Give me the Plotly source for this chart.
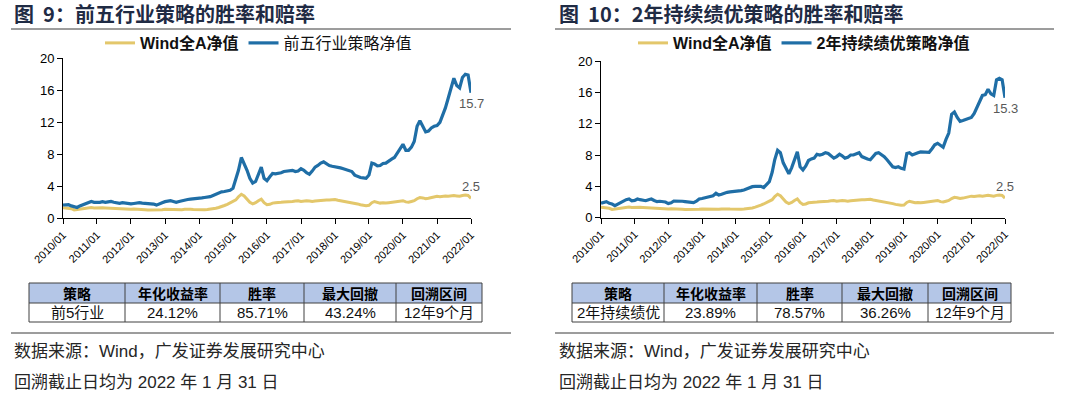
import plotly.graph_objects as go
import pandas as pd

W, H = 1080, 397

# ---------------- data ----------------
months = pd.date_range("2010-01-01", "2022-01-01", freq="MS")
year_ticks = pd.date_range("2010-01-01", "2022-01-01", freq="YS")
tick_labels = ["2010/01", "2011/01", "2012/01", "2013/01", "2014/01", "2015/01", "2016/01",
               "2017/01", "2018/01", "2019/01", "2020/01", "2021/01", "2022/01"]
y_ticks = [0, 4, 8, 12, 16, 20]

wind_a = [
    1.33, 1.30, 1.25, 1.20, 1.05, 1.10, 1.20, 1.25, 1.28, 1.35, 1.35, 1.30,
    1.33, 1.35, 1.32, 1.30, 1.28, 1.25, 1.22, 1.15, 1.12, 1.15, 1.10, 1.10,
    1.12, 1.15, 1.15, 1.13, 1.10, 1.08, 1.05, 1.05, 1.03, 1.02, 1.05, 1.08,
    1.12, 1.10, 1.08, 1.10, 1.12, 1.05, 1.08, 1.12, 1.15, 1.12, 1.10, 1.08,
    1.05, 1.08, 1.08, 1.10, 1.12, 1.15, 1.25, 1.35, 1.45, 1.60, 1.75, 1.90,
    2.05, 2.30, 2.70, 3.00, 2.80, 2.40, 2.00, 1.80, 1.95, 2.20, 2.40, 1.95,
    1.70, 1.75, 1.90, 1.95, 1.95, 2.00, 2.05, 2.05, 2.10, 2.10, 2.15, 2.20,
    2.10, 2.15, 2.20, 2.15, 2.10, 2.15, 2.20, 2.25, 2.30, 2.30, 2.28, 2.30,
    2.35, 2.25, 2.20, 2.15, 2.10, 2.00, 1.95, 1.85, 1.80, 1.70, 1.62, 1.58,
    1.62, 1.95, 2.10, 2.00, 1.90, 1.95, 1.90, 1.95, 2.00, 2.00, 2.05, 2.15,
    2.20, 2.05, 2.00, 2.10, 2.20, 2.45, 2.60, 2.55, 2.45, 2.50, 2.60, 2.70,
    2.75, 2.70, 2.75, 2.80, 2.75, 2.80, 2.85, 2.80, 2.75, 2.85, 2.90, 2.85,
    2.50,
]

top5_industry = [
    1.66, 1.70, 1.70, 1.55, 1.40, 1.35, 1.55, 1.70, 1.85, 2.05, 2.10, 2.00,
    1.96, 2.00, 2.08, 2.00, 2.05, 2.10, 2.00, 1.90, 1.87, 1.95, 1.87, 1.85,
    1.80, 1.85, 1.90, 1.96, 1.90, 1.87, 1.85, 1.80, 1.78, 1.65, 1.75, 1.95,
    2.08, 2.15, 2.20, 2.10, 2.00, 2.10, 2.20, 2.30, 2.35, 2.40, 2.42, 2.48,
    2.50, 2.55, 2.60, 2.65, 2.70, 2.85, 3.00, 3.20, 3.30, 3.35, 3.40, 3.50,
    3.75, 4.80, 6.00, 7.60, 6.90, 6.00, 5.00, 4.40, 4.60, 5.50, 6.40, 5.00,
    4.70, 5.20, 5.60, 5.55, 5.60, 5.70, 5.85, 5.90, 6.00, 6.00, 5.85, 5.90,
    6.20, 6.00, 5.70, 5.50, 5.90, 6.40, 6.60, 6.90, 7.05, 6.80, 6.60, 6.50,
    6.45, 6.40, 6.30, 6.20, 6.05, 6.00, 5.85, 5.40, 5.20, 5.10, 5.05, 5.00,
    5.40, 6.90, 6.80, 6.55, 6.60, 6.85, 6.90, 7.20, 7.40, 7.60, 8.20, 8.80,
    9.25, 8.50, 8.50, 8.90, 9.60, 11.5, 12.2, 11.5, 10.8, 10.9, 11.3, 11.5,
    11.6, 12.0, 12.8, 13.8, 15.0, 16.2, 17.5, 16.6, 16.3, 17.6, 18.0, 17.9,
    15.7,
]

two_year_quality = [
    1.84, 2.00, 2.05, 1.84, 1.75, 1.55, 1.75, 2.00, 2.10, 2.30, 2.39, 2.15,
    2.20, 2.39, 2.30, 2.20, 2.17, 2.30, 2.39, 2.20, 2.05, 2.10, 2.05, 2.00,
    1.80, 1.90, 2.13, 2.15, 2.17, 2.10, 2.05, 2.00, 1.95, 1.92, 2.10, 2.39,
    2.45, 2.56, 2.60, 2.69, 2.80, 3.11, 2.90, 3.00, 3.15, 3.24, 3.30, 3.32,
    3.35, 3.40, 3.45, 3.53, 3.70, 3.85, 3.96, 4.00, 4.05, 4.00, 3.85, 4.20,
    4.60, 5.80, 7.40, 8.60, 8.30, 7.00, 6.20, 5.60, 6.40, 7.30, 8.40, 6.50,
    6.10, 6.60, 7.30, 7.50, 7.60, 8.10, 8.00, 8.10, 8.30, 8.20, 7.90, 7.60,
    7.80, 8.10, 7.90, 7.60, 7.70, 8.00, 8.00, 8.10, 8.30, 7.80, 7.60, 7.50,
    7.40, 7.90, 8.20, 8.30, 8.10, 7.80, 7.40, 6.90, 6.50, 6.40, 6.50, 6.30,
    6.20, 8.20, 8.30, 8.00, 8.20, 8.30, 8.40, 8.40, 8.45, 8.35, 8.80, 9.30,
    9.50, 9.20, 9.00, 10.0, 10.8, 13.2, 13.5, 12.8, 12.3, 12.4, 12.5, 12.6,
    12.8, 13.3, 14.0, 14.8, 15.6, 15.7, 16.4, 15.8, 15.6, 17.6, 17.8, 17.6,
    15.3,
]

titles = ["图\u00a0\u00a09：前五行业策略的胜率和赔率", "图\u00a0\u00a010：2年持续绩优策略的胜率和赔率"]
series_names = [["<b>Wind全A净值</b>", "前五行业策略净值"],
                ["<b>Wind全A净值</b>", "<b>2年持续绩优策略净值</b>"]]
table_header = ["策略", "年化收益率", "胜率", "最大回撤", "回溯区间"]
table_rows = [["前5行业", "24.12%", "85.71%", "43.24%", "12年9个月"],
              ["2年持续绩优", "23.89%", "78.57%", "36.26%", "12年9个月"]]
source_text = "数据来源：Wind，广发证券发展研究中心"
date_text = "回溯截止日均为 2022 年 1 月 31 日"

# ---------------- styling / layout ----------------
YELLOW = "#e3c76b"
BLUE = "#1f6ea6"
TITLE_C = "#1f2b44"
CJK = "Noto Sans CJK SC"
LAT = "Liberation Sans, Noto Sans CJK SC"


def fx(x):
    return x / W


def fy(y):
    return 1 - y / H


panels = [
    dict(plot=(63, 471, 58.3, 218.3), cols=[29, 125, 220, 304, 396, 482],
         line=(11, 511), legx=100, title_x=12, blue=top5_industry),
    dict(plot=(601, 1005, 61.0, 217.7), cols=[572, 664, 757, 842, 928, 1011],
         line=(555, 1054), legx=633, title_x=557, blue=two_year_quality),
]

fig = go.Figure()
shapes = []
annots = []

for i, p in enumerate(panels):
    xa = "x" if i == 0 else "x2"
    ya = "y" if i == 0 else "y2"
    lg = "legend" if i == 0 else "legend2"
    fig.add_trace(go.Scatter(x=months, y=wind_a, mode="lines", name=series_names[i][0],
                             line=dict(color=YELLOW, width=3), xaxis=xa, yaxis=ya, legend=lg))
    fig.add_trace(go.Scatter(x=months, y=p["blue"], mode="lines", name=series_names[i][1],
                             line=dict(color=BLUE, width=3.2), xaxis=xa, yaxis=ya, legend=lg))
    x0, x1, yt, yb = p["plot"]
    axis_common = dict(showline=True, linecolor="#000", linewidth=1, ticks="outside",
                       ticklen=5, tickcolor="#000", showgrid=False, zeroline=False,
                       automargin=False)
    fig.layout[("xaxis" if i == 0 else "xaxis2")] = dict(
        domain=[fx(x0), fx(x1)], anchor=ya, type="date",
        range=[months[0], months[-1]], tickvals=list(year_ticks), ticktext=tick_labels,
        tickangle=-45, tickfont=dict(family=LAT, size=11, color="#000"), **axis_common)
    fig.layout[("yaxis" if i == 0 else "yaxis2")] = dict(
        domain=[fy(yb), fy(yt)], anchor=xa, range=[0, 20], tickvals=y_ticks,
        tickfont=dict(family=LAT, size=13, color="#000"), **axis_common)
    fig.layout[lg] = dict(orientation="h", x=fx(p["legx"]), y=fy(43), xanchor="left",
                          yanchor="middle", font=dict(family=LAT, size=16, color="#111"),
                          bgcolor="rgba(0,0,0,0)", itemwidth=30, tracegroupgap=0)

    # end labels
    annots.append(dict(x=months[-1], y=p["blue"][-1], xref=xa, yref=ya, text=f"{p['blue'][-1]:.1f}",
                       showarrow=False, yshift=-11, xanchor="center", yanchor="middle",
                       font=dict(family=LAT, size=13, color="#595959")))
    annots.append(dict(x=months[-1], y=wind_a[-1], xref=xa, yref=ya, text=f"{wind_a[-1]:.1f}",
                       showarrow=False, yshift=12, xanchor="center", yanchor="middle",
                       font=dict(family=LAT, size=13, color="#595959")))

    # title + rules
    annots.append(dict(x=fx(p["title_x"]), y=fy(14), xref="paper", yref="paper", text=f"<b>{titles[i]}</b>",
                       showarrow=False, xanchor="left", yanchor="middle",
                       font=dict(family=CJK, size=20, color=TITLE_C)))
    lx0, lx1 = p["line"]
    for yy in (29, 333):
        shapes.append(dict(type="line", xref="paper", yref="paper", x0=fx(lx0), x1=fx(lx1),
                           y0=fy(yy), y1=fy(yy), line=dict(color="#3a3a3a", width=1)))

    # table
    cols = p["cols"]
    t_top, t_mid, t_bot = 283, 303, 322
    shapes.append(dict(type="rect", xref="paper", yref="paper", x0=fx(cols[0]), x1=fx(cols[-1]),
                       y0=fy(t_mid), y1=fy(t_top), fillcolor="#b4c6e7", line=dict(width=0), layer="below"))
    for yy in (t_top, t_mid, t_bot):
        shapes.append(dict(type="line", xref="paper", yref="paper", x0=fx(cols[0]), x1=fx(cols[-1]),
                           y0=fy(yy), y1=fy(yy), line=dict(color="#404040", width=1)))
    for cx in cols:
        shapes.append(dict(type="line", xref="paper", yref="paper", x0=fx(cx), x1=fx(cx),
                           y0=fy(t_bot), y1=fy(t_top), line=dict(color="#404040", width=1)))
    for j in range(5):
        cxm = (cols[j] + cols[j + 1]) / 2
        annots.append(dict(x=fx(cxm), y=fy((t_top + t_mid) / 2), xref="paper", yref="paper",
                           text=f"<b>{table_header[j]}</b>", showarrow=False, xanchor="center",
                           yanchor="middle", font=dict(family=CJK, size=14, color="#000")))
        annots.append(dict(x=fx(cxm), y=fy((t_mid + t_bot) / 2), xref="paper", yref="paper",
                           text=table_rows[i][j], showarrow=False, xanchor="center",
                           yanchor="middle", font=dict(family=LAT, size=15, color="#111")))

    # source notes
    annots.append(dict(x=fx(p["title_x"]), y=fy(351), xref="paper", yref="paper", text=source_text,
                       showarrow=False, xanchor="left", yanchor="middle",
                       font=dict(family=LAT, size=17, color="#262626")))
    annots.append(dict(x=fx(p["title_x"]), y=fy(382), xref="paper", yref="paper", text=date_text,
                       showarrow=False, xanchor="left", yanchor="middle",
                       font=dict(family=LAT, size=17, color="#262626")))

fig.update_layout(width=W, height=H, autosize=False, margin=dict(l=0, r=0, t=0, b=0),
                  paper_bgcolor="white", plot_bgcolor="white", shapes=shapes, annotations=annots,
                  showlegend=True, hovermode=False)

fig.write_html("out.html", config={"displayModeBar": False, "staticPlot": True},
               post_script="document.body.style.margin='0';document.body.style.overflow='hidden';")
